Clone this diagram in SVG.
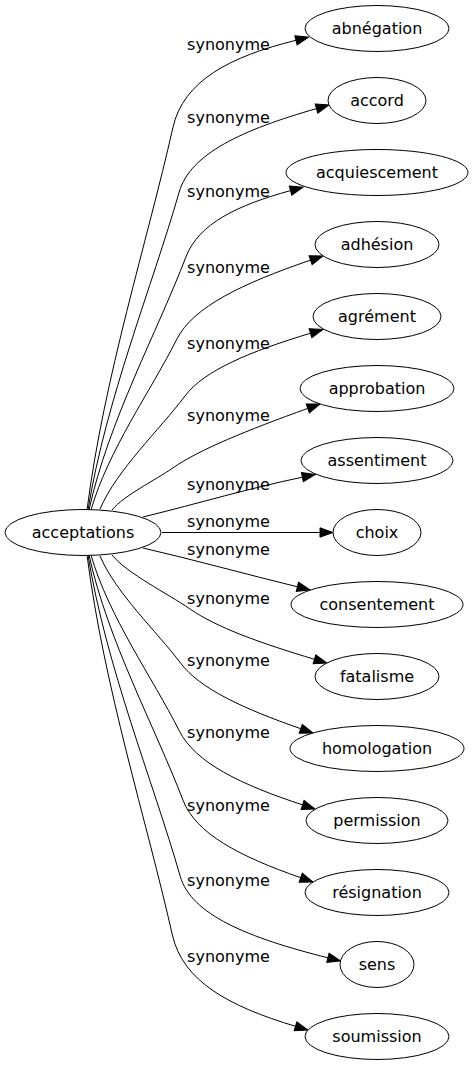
<svg xmlns="http://www.w3.org/2000/svg" width="473" height="1067" viewBox="0 0 473 1067">
<style>
.node ellipse{fill:#fff;stroke:#000;stroke-width:1}
.node text{font-family:"DejaVu Sans",sans-serif;font-size:16px;fill:#000;text-anchor:middle}
.edge path{fill:none;stroke:#000;stroke-width:1;marker-end:url(#arrow)}
.lbl{font-family:"DejaVu Sans",sans-serif;font-size:16px;fill:#000;text-anchor:middle}
</style>
<defs>
<marker id="arrow" markerUnits="userSpaceOnUse" markerWidth="13" markerHeight="9.4" viewBox="0 0 13 9.4" refX="0" refY="4.7" orient="auto" overflow="visible">
<path d="M0,0 L13,4.7 L0,9.4 z" fill="#000" stroke="#000" stroke-width="1"/>
</marker>
</defs>
<rect width="473" height="1067" fill="#fff"/>
<g id="connectors">
<g class="edge"><path d="M87,510 C104.2,376.2 147.1,242.3 172.9,127.6 C183.4,80.7 230,56.5 296,40.3"/></g>
<g class="edge"><path d="M88,510 C106.2,398.7 151.8,287.4 179.2,192 C190.2,153.6 242.4,129.8 316.5,108.6"/></g>
<g class="edge"><path d="M89,510 C108.4,421.5 156.8,332.9 185.9,257 C198.8,223.4 237.4,205.2 290.5,190.6"/></g>
<g class="edge"><path d="M91,510 C108.2,450.2 151.1,390.4 176.8,339.2 C193,307 242.4,283.4 310.6,260.1"/></g>
<g class="edge"><path d="M100,509 C117,469.5 159.5,429.9 185,396 C204.2,370.4 249.6,351.7 310.5,333.2"/></g>
<g class="edge"><path d="M112,510 C124.2,495.2 154.8,480.5 173.1,467.8 C199.4,449.6 246.7,430.4 307.8,408.4"/></g>
<g class="edge"><path d="M143,517 C200,503 250,488 302.4,477.2"/></g>
<g class="edge"><path d="M162,532.5 L320,532.5"/></g>
<g class="edge"><path d="M143,548 C195,560 245,574 297.4,586.8"/></g>
<g class="edge"><path d="M112,555 C127.6,573.9 166.7,592.9 190.2,609.1 C216.5,627.3 259.7,642.9 314.5,659.3"/></g>
<g class="edge"><path d="M100,556 C116.1,593.5 156.4,631 180.6,663.1 C199.8,688.7 243,708.5 300.7,728.7"/></g>
<g class="edge"><path d="M91,555 C108.6,616.5 152.7,678 179.2,730.7 C195.4,762.9 240.7,784.5 302.6,804.9"/></g>
<g class="edge"><path d="M89,555 C107.8,640.8 154.8,726.6 183,800.2 C195.9,833.8 239.7,856.4 300.7,877.7"/></g>
<g class="edge"><path d="M88,555 C106.4,667.4 152.5,779.8 180.2,876.2 C191.2,914.6 247.6,937.7 327.9,957.8"/></g>
<g class="edge"><path d="M87,555 C104.1,687.9 146.7,820.8 172.3,934.7 C182.8,981.6 229.4,1006.5 295.5,1026.3"/></g>
<text class="lbl" x="228.5" y="50">synonyme</text>
<text class="lbl" x="228.5" y="123">synonyme</text>
<text class="lbl" x="228.5" y="197">synonyme</text>
<text class="lbl" x="228.5" y="273">synonyme</text>
<text class="lbl" x="228.5" y="349">synonyme</text>
<text class="lbl" x="228.5" y="421">synonyme</text>
<text class="lbl" x="228.5" y="490">synonyme</text>
<text class="lbl" x="228.5" y="527">synonyme</text>
<text class="lbl" x="228.5" y="555">synonyme</text>
<text class="lbl" x="228.5" y="604">synonyme</text>
<text class="lbl" x="228.5" y="666">synonyme</text>
<text class="lbl" x="228.5" y="738">synonyme</text>
<text class="lbl" x="228.5" y="811">synonyme</text>
<text class="lbl" x="228.5" y="886">synonyme</text>
<text class="lbl" x="228.5" y="962">synonyme</text>
</g>
<g id="acceptations" class="node"><ellipse cx="83" cy="532.5" rx="78" ry="23"/><text x="83" y="538">acceptations</text></g>
<g id="abnegation" class="node"><ellipse cx="377" cy="28.5" rx="72" ry="23"/><text x="377" y="34">abnégation</text></g>
<g id="accord" class="node"><ellipse cx="377" cy="100.5" rx="49" ry="23"/><text x="377" y="106">accord</text></g>
<g id="acquiescement" class="node"><ellipse cx="377" cy="172.5" rx="91" ry="23"/><text x="377" y="178">acquiescement</text></g>
<g id="adhesion" class="node"><ellipse cx="377" cy="244.5" rx="62" ry="23"/><text x="377" y="250">adhésion</text></g>
<g id="agrement" class="node"><ellipse cx="377" cy="316.5" rx="64" ry="23"/><text x="377" y="322">agrément</text></g>
<g id="approbation" class="node"><ellipse cx="377" cy="388.5" rx="77" ry="23"/><text x="377" y="394">approbation</text></g>
<g id="assentiment" class="node"><ellipse cx="377" cy="460.5" rx="76" ry="23"/><text x="377" y="466">assentiment</text></g>
<g id="choix" class="node"><ellipse cx="377" cy="532.5" rx="44" ry="23"/><text x="377" y="538">choix</text></g>
<g id="consentement" class="node"><ellipse cx="377" cy="604.5" rx="86" ry="23"/><text x="377" y="610">consentement</text></g>
<g id="fatalisme" class="node"><ellipse cx="377" cy="676.5" rx="62" ry="23"/><text x="377" y="682">fatalisme</text></g>
<g id="homologation" class="node"><ellipse cx="377" cy="748.5" rx="87" ry="23"/><text x="377" y="754">homologation</text></g>
<g id="permission" class="node"><ellipse cx="377" cy="820.5" rx="71" ry="23"/><text x="377" y="826">permission</text></g>
<g id="resignation" class="node"><ellipse cx="377" cy="892.5" rx="72" ry="23"/><text x="377" y="898">résignation</text></g>
<g id="sens" class="node"><ellipse cx="377" cy="964.5" rx="37" ry="23"/><text x="377" y="970">sens</text></g>
<g id="soumission" class="node"><ellipse cx="377" cy="1036.5" rx="72" ry="23"/><text x="377" y="1042">soumission</text></g>
</svg>
